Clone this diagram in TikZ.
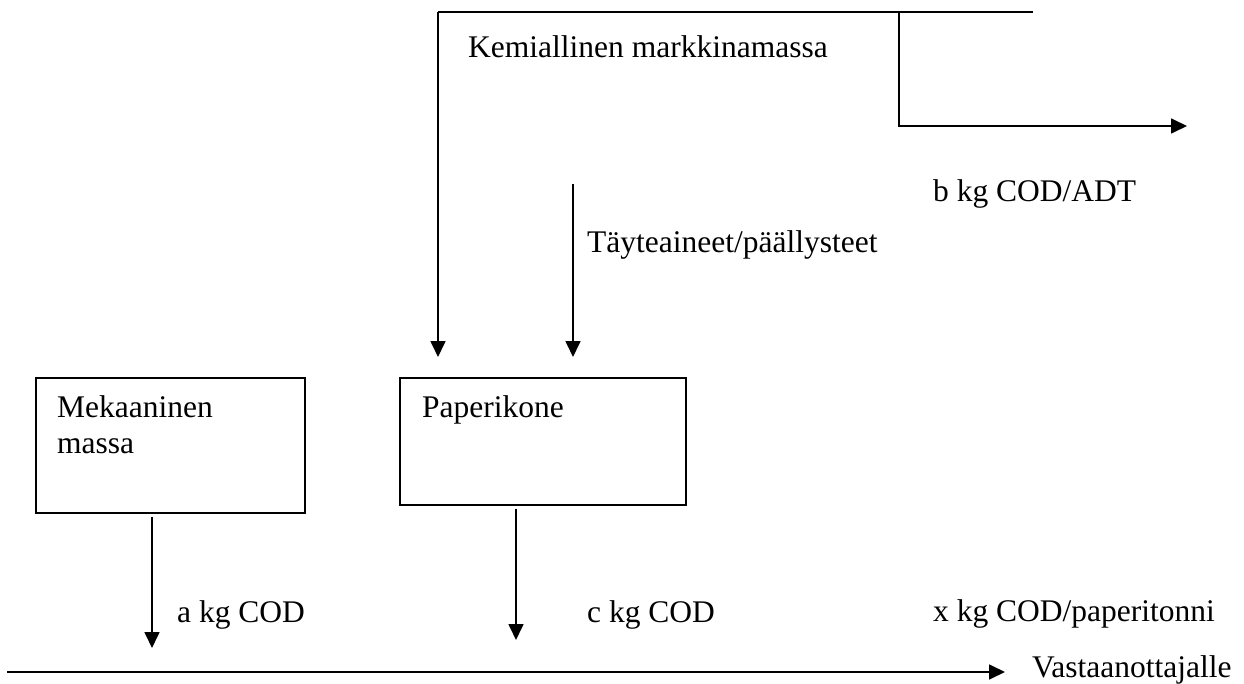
\documentclass[tikz,border=0pt]{standalone}
\usepackage{fontspec}
\setmainfont{Liberation Serif}
\usetikzlibrary{arrows.meta}
\begin{document}
\begin{tikzpicture}[x=1pt,y=-1pt,
  line/.style={line width=1.7pt},
  arr/.style={line width=1.7pt,-{Triangle[length=16pt,width=15pt]}},
  lbl/.style={anchor=base west,inner sep=0pt,font=\fontsize{31.5}{36.5}\selectfont},
  boxnode/.style={draw,line width=1.7pt,anchor=north west,inner sep=0pt}]
\useasboundingbox (0,0) rectangle (1244,684);
% boxes
\node[boxnode,minimum width=269pt,minimum height=135pt] (mek) at (35,377) {};
\node[boxnode,minimum width=286pt,minimum height=127pt] (pk) at (399,377) {};
\node[lbl] (mektxt) at (57,417) {Mekaaninen};
\node[lbl] (mektxt2) at (57,453) {massa};
\node[lbl] (pktxt) at (422,417) {Paperikone};
% top network
\coordinate (tl) at (438,12);
\coordinate (tr) at (1033,12);
\coordinate (bt) at (899,12);
\coordinate (bc) at (899,126);
\coordinate (be) at (1187,126);
\coordinate (in1) at (438,357);
\coordinate (ts) at (573,184);
\coordinate (in2) at (573,357);
\draw[line] (tl) -- (tr);
\draw[arr] (tl) -- (in1);
\draw[arr] (bt) -- (bc) -- (be);
\draw[arr] (ts) -- (in2);
\node[lbl] (kem) at (468,58) {Kemiallinen markkinamassa};
\node[lbl] (btxt) at (933,202) {b kg COD/ADT};
\node[lbl] (tay) at (587,253) {Täyteaineet/päällysteet};
% outputs
\coordinate (aend) at (152,648);
\coordinate (cend) at (516,640);
\draw[arr] ([yshift=-3pt]mek.south -| aend) -- (aend);
\draw[arr] ([yshift=-3pt]pk.south -| cend) -- (cend);
\node[lbl] (atxt) at (177,622) {a kg COD};
\node[lbl] (ctxt) at (587,622) {c kg COD};
\node[lbl] (xtxt) at (933,621) {x kg COD/paperitonni};
% receiving line
\coordinate (bl) at (7,672);
\node[lbl] (vast) at (1032,677) {Vastaanottajalle};
\coordinate (bend) at (1005,672);
\draw[arr] (bl) -- (bend);
\end{tikzpicture}
\end{document}
